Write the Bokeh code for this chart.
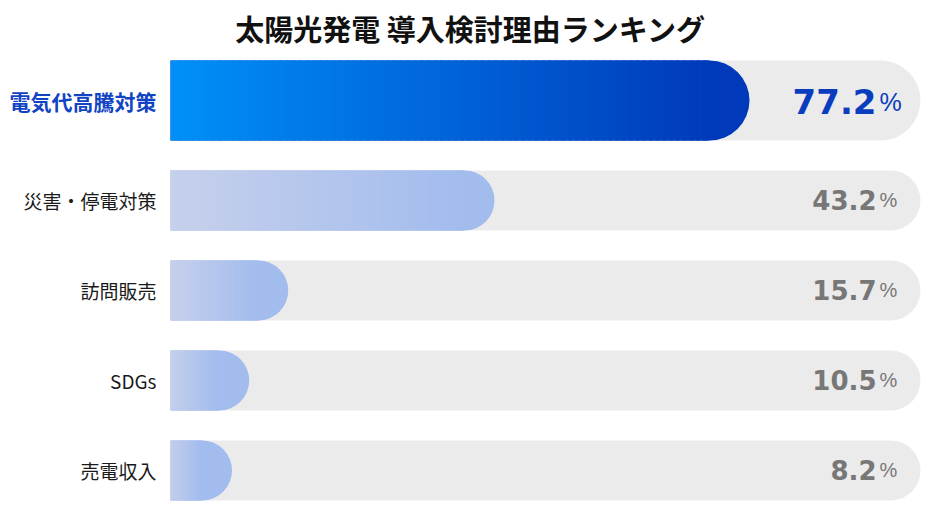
from bokeh.plotting import figure
from bokeh.models import Range1d
from bokeh.embed import file_html
from bokeh.resources import INLINE
from bokeh.core.properties import value

# ---- data ----
title_text = "太陽光発電 導入検討理由ランキング"
categories = ["電気代高騰対策", "災害・停電対策", "訪問販売", "SDGs", "売電収入"]
values = [77.2, 43.2, 15.7, 10.5, 8.2]
max_value = 100.0

# ---- layout (pixel geometry) ----
W, H = 924, 504
PX_PER_UNIT = 7.5
ORIGIN_PX = 170  # x pixel of value 0
x_start = -ORIGIN_PX / PX_PER_UNIT
x_end = x_start + W / PX_PER_UNIT

p = figure(width=W, height=H, output_backend="svg", toolbar_location=None,
           x_axis_type=None, y_axis_type=None, min_border=0,
           x_range=Range1d(x_start, x_end), y_range=Range1d(H, 0))
p.outline_line_color = None
p.background_fill_color = "white"
p.border_fill_color = "white"
p.grid.visible = False

JP = "Noto Sans CJK JP"


def lerp(c1, c2, t):
    return "#%02x%02x%02x" % tuple(int(round(a + (b - a) * t)) for a, b in zip(c1, c2))


centers, heights = [], []
for i in range(len(values)):
    if i == 0:
        centers.append(100)
        heights.append(80)
    else:
        centers.append(200 + 90 * (i - 1))
        heights.append(60)

# backgrounds
for c, h in zip(centers, heights):
    r = int(h // 2)
    p.quad(left=[0], right=[max_value], top=[c - h / 2], bottom=[c + h / 2],
           fill_color="#ebebeb", line_color=None,
           border_radius=(0, r, r, 0))

# bars
N = 80
for i, (v, c, h) in enumerate(zip(values, centers, heights)):
    r = int(h // 2)
    if i == 0:
        c0, c1 = (0, 144, 248), (0, 58, 186)
    else:
        c0, c1 = (198, 208, 235), (162, 188, 238)
    p.quad(left=[0], right=[v], top=[c - h / 2], bottom=[c + h / 2],
           fill_color=lerp(c0, c1, 1.0), line_color=None,
           border_radius=(0, r, r, 0))
    grad_end = max(v - r / PX_PER_UNIT, 0.0)
    lefts, rights, cols = [], [], []
    for k in range(N):
        a = grad_end * k / N
        b = grad_end * (k + 1) / N
        lefts.append(a)
        rights.append(b + (grad_end / N) * 0.6 if k < N - 1 else b)
        cols.append(lerp(c0, c1, (k + 0.5) / N))
    p.quad(left=lefts, right=rights, top=[c - h / 2] * N, bottom=[c + h / 2] * N,
           fill_color=cols, line_color=None)

# category labels
lab_x = -14 / PX_PER_UNIT
for i, (cat, c) in enumerate(zip(categories, centers)):
    if i == 0:
        p.text(x=[lab_x], y=[c], text=[cat], text_align="right", text_baseline="middle",
               text_font=value(JP), text_font_size="21px", text_font_style="bold",
               text_color="#1144c4")
    else:
        p.text(x=[lab_x], y=[c], text=[cat], text_align="right", text_baseline="middle",
               text_font=value(JP), text_font_size="19px", text_font_style="normal",
               text_color="#1a1a1a")

# value labels
num_x = (876 - 170) / PX_PER_UNIT
pct_x = (879 - 170) / PX_PER_UNIT
for i, (v, c) in enumerate(zip(values, centers)):
    if i == 0:
        p.text(x=[num_x], y=[c + 1], text=["%.1f" % v], text_align="right",
               text_baseline="middle", text_font=value("DejaVu Sans"),
               text_font_size="34px", text_font_style="bold", text_color="#0a3cbe")
        p.text(x=[pct_x], y=[c + 1], text=["%"], text_align="left",
               text_baseline="middle", text_font=value("Liberation Sans"),
               text_font_size="25px", text_font_style="normal", text_color="#0a3cbe")
    else:
        p.text(x=[num_x], y=[c - 1], text=["%.1f" % v], text_align="right",
               text_baseline="middle", text_font=value("DejaVu Sans"),
               text_font_size="26px", text_font_style="bold", text_color="#777777")
        p.text(x=[pct_x], y=[c - 1], text=["%"], text_align="left",
               text_baseline="middle", text_font=value("Liberation Sans"),
               text_font_size="20px", text_font_style="normal", text_color="#777777")

# title
p.text(x=[(470 - 170) / PX_PER_UNIT], y=[27], text=[title_text], text_align="center",
       text_baseline="middle", text_font=value(JP), text_font_size="29px",
       text_font_style="bold", text_color="#111111")

open("out.html", "w").write(file_html(p, INLINE))
